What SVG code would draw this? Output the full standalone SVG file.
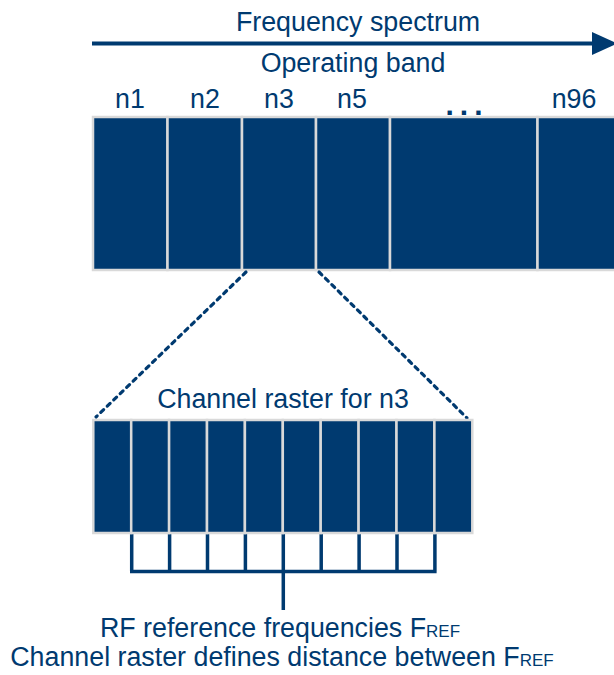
<svg xmlns="http://www.w3.org/2000/svg" width="614" height="675" viewBox="0 0 614 675">
<style>
.t{font-family:"Liberation Sans",Arial,sans-serif;font-size:26.8px;fill:#003A70;text-anchor:middle}
.sub{font-size:17px}
.cell{fill:#003A70;stroke:#D9D9D9;stroke-width:2.5}
.dash{fill:none;stroke:#003A70;stroke-width:3.2;stroke-dasharray:4 5;stroke-linecap:round}
.br{fill:none;stroke:#003A70;stroke-width:3.5}
</style>
<rect width="614" height="675" fill="#fff"/>
<g id="spectrum">
<line x1="92" y1="43.5" x2="596" y2="43.5" stroke="#003A70" stroke-width="4"/>
<polygon points="592,32 617,43.5 592,55" fill="#003A70"/>
<text class="t" x="358" y="31">Frequency spectrum</text>
<text class="t" x="353" y="72">Operating band</text>
</g>
<g id="band">
<rect class="cell" x="93" y="117" width="74.5" height="153"/>
<rect class="cell" x="167.5" y="117" width="74.5" height="153"/>
<rect class="cell" x="242" y="117" width="74" height="153"/>
<rect class="cell" x="316" y="117" width="74" height="153"/>
<rect class="cell" x="390" y="117" width="147.5" height="153"/>
<rect class="cell" x="537.5" y="117" width="90" height="153"/>
<text class="t" x="130" y="108">n1</text>
<text class="t" x="205" y="108">n2</text>
<text class="t" x="279" y="108">n3</text>
<text class="t" x="352" y="108">n5</text>
<text class="t" x="467" y="114.5" style="font-weight:bold;font-size:30px;letter-spacing:6px">...</text>
<text class="t" x="574" y="108">n96</text>
</g>
<g id="connectors">
<line class="dash" x1="246" y1="272" x2="96" y2="417"/>
<line class="dash" x1="319" y1="272" x2="467" y2="418"/>
<path class="br" d="M131.7,533V571.5M169.6,533V571.5M207.5,533V571.5M245.4,533V571.5M321.2,533V571.5M359.1,533V571.5M397,533V571.5M434.9,533V571.5M130,571.5H436.6M283.3,533V610"/>
</g>
<g id="raster">
<text class="t" x="283" y="408">Channel raster for n3</text>
<rect class="cell" x="93.3" y="420" width="37.9" height="113"/>
<rect class="cell" x="131.2" y="420" width="37.9" height="113"/>
<rect class="cell" x="169.1" y="420" width="37.9" height="113"/>
<rect class="cell" x="207" y="420" width="37.9" height="113"/>
<rect class="cell" x="244.9" y="420" width="37.9" height="113"/>
<rect class="cell" x="282.8" y="420" width="37.9" height="113"/>
<rect class="cell" x="320.7" y="420" width="37.9" height="113"/>
<rect class="cell" x="358.6" y="420" width="37.9" height="113"/>
<rect class="cell" x="396.5" y="420" width="37.9" height="113"/>
<rect class="cell" x="434.4" y="420" width="37.9" height="113"/>
</g>
<g id="labels">
<text class="t" x="280" y="637">RF reference frequencies F<tspan class="sub">REF</tspan></text>
<text class="t" x="282" y="666">Channel raster defines distance between F<tspan class="sub">REF</tspan></text>
</g>
</svg>
